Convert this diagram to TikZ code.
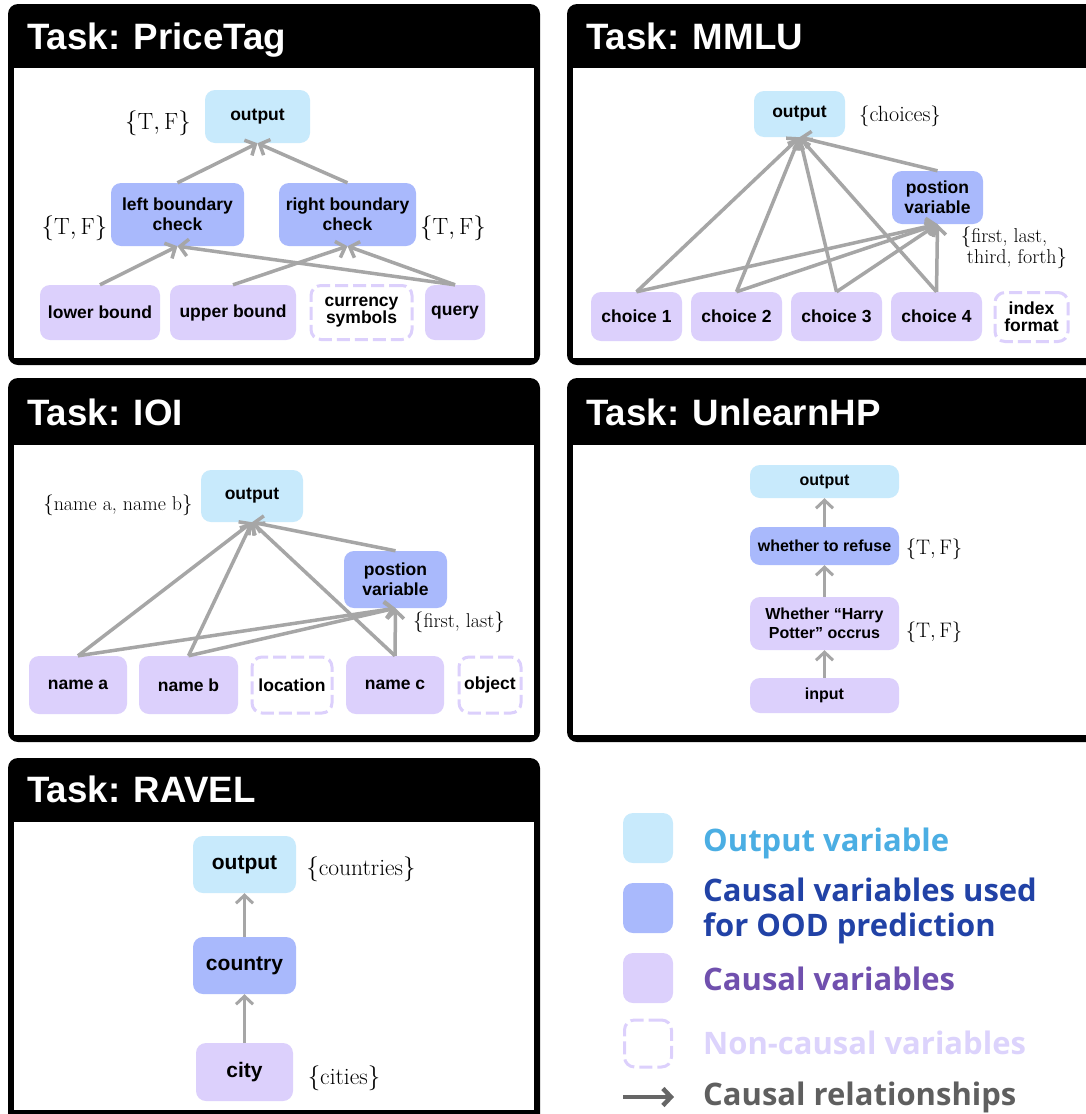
\documentclass[tikz,border=0pt]{standalone}
\usepackage{fontspec}
\usetikzlibrary{arrows.meta}
\newfontfamily\boxfont{Liberation Sans}
\newfontfamily\legendfont{Open Sans}
\definecolor{outblue}{HTML}{C8EAFC}
\definecolor{oodblue}{HTML}{A9B9FC}
\definecolor{cpurple}{HTML}{DCD0FC}
\definecolor{linkgray}{HTML}{A6A6A6}
\definecolor{legout}{HTML}{4BAEE3}
\definecolor{legood}{HTML}{2142A6}
\definecolor{legc}{HTML}{7050AE}
\definecolor{legnc}{HTML}{DCD3FC}
\definecolor{legarrow}{HTML}{666666}
\definecolor{legrel}{HTML}{5F5F5F}

\begin{document}
\begin{tikzpicture}[x=1pt,y=-1pt,
  var/.style={rounded corners=10pt, inner sep=0pt, align=center, font=\boxfont\bfseries\fontsize{17.5}{20}\selectfont},
  outvar/.style={var, fill=outblue},
  oodvar/.style={var, fill=oodblue},
  cvar/.style={var, fill=cpurple},
  ncvar/.style={var, draw=cpurple, line width=3pt, dash pattern=on 13pt off 5pt, font=\boxfont\bfseries\fontsize{17.5}{17}\selectfont},
  bigtext/.style={font=\boxfont\bfseries\fontsize{21}{24}\selectfont},
  smalltext/.style={font=\boxfont\bfseries\fontsize{16}{19}\selectfont},
  vals/.style={inner sep=0pt, align=left, font=\fontsize{#1}{21}\selectfont},
  vals/.default=22,
  link/.style={draw=linkgray, line width=3.5pt, -{Straight Barb[length=8pt,width=17pt]}},
  tasktitle/.style={anchor=base west, inner sep=0pt, text=white, font=\boxfont\bfseries\fontsize{36.7}{40}\selectfont},
  legtext/.style={inner sep=0pt, align=left, font=\legendfont\bfseries\fontsize{31}{35}\selectfont}]
\useasboundingbox (0,0) rectangle (1086,1114);
\clip (0,0) rectangle (1086,1114);

% frames
\fill[rounded corners=10pt] (8,4) rectangle (540,365);
\fill[white] (14,68) rectangle (534,358);
\fill[rounded corners=10pt] (567,4) rectangle (1100,365);
\fill[white] (573,68) rectangle (1100,358);
\fill[rounded corners=10pt] (8,378) rectangle (540,742);
\fill[white] (14,445) rectangle (534,735);
\fill[rounded corners=10pt] (567,378) rectangle (1100,742);
\fill[white] (573,445) rectangle (1100,735);
\fill[rounded corners=10pt] (8,758) rectangle (540,1125);
\fill[white] (14,822) rectangle (534,1110);

\node[tasktitle] (pt-title) at (27,49) {Task: PriceTag};
\node[tasktitle] (mm-title) at (586,49) {Task: MMLU};
\node[tasktitle] (ioi-title) at (27,425) {Task: IOI};
\node[tasktitle] (hp-title) at (586,425) {Task: UnlearnHP};
\node[tasktitle] (rv-title) at (27,802) {Task: RAVEL};

% PriceTag
\node[outvar, minimum width=105pt, minimum height=53pt] (pt-out) at (257.5,116.5) {output};
\node[oodvar, minimum width=133pt, minimum height=63pt] (pt-left) at (177.5,214.5) {left boundary\\check};
\node[oodvar, minimum width=137pt, minimum height=63pt] (pt-right) at (347.5,214.5) {right boundary\\check};
\node[cvar, minimum width=120pt, minimum height=55pt] (pt-low) at (100,312.5) {lower bound};
\node[cvar, minimum width=126pt, minimum height=55pt] (pt-up) at (233,312.5) {upper bound};
\node[ncvar, minimum width=101pt, minimum height=54pt] (pt-cur) at (361.5,312.5) {currency\\symbols};
\node[cvar, minimum width=60pt, minimum height=55pt] (pt-query) at (455,312.5) {query};
\node[vals=23.5] (pt-v1) at (158,123) {$\{\mathrm{T}, \mathrm{F}\}$};
\node[vals=23.5] (pt-v2) at (74.5,228) {$\{\mathrm{T}, \mathrm{F}\}$};
\node[vals=23.5] (pt-v3) at (453,228) {$\{\mathrm{T}, \mathrm{F}\}$};
\draw[link] (pt-left.north) -- (pt-out.south);
\draw[link] (pt-right.north) -- (pt-out.south);
\draw[link] (pt-low.north) -- (pt-left.south);
\draw[link] (pt-up.north) -- (pt-right.south);
\draw[link] (pt-query.north) -- (pt-left.south);
\draw[link] (pt-query.north) -- (pt-right.south);

% MMLU
\node[outvar, minimum width=91pt, minimum height=46pt] (mm-out) at (799.5,114) {output};
\node[oodvar, minimum width=91pt, minimum height=53pt] (mm-pos) at (937.5,197.5) {postion\\variable};
\node[cvar, minimum width=91pt, minimum height=49pt] (mm-c1) at (636.5,316.5) {choice 1};
\node[cvar, minimum width=91pt, minimum height=49pt] (mm-c2) at (736.5,316.5) {choice 2};
\node[cvar, minimum width=91pt, minimum height=49pt] (mm-c3) at (836.5,316.5) {choice 3};
\node[cvar, minimum width=91pt, minimum height=49pt] (mm-c4) at (936.5,316.5) {choice 4};
\node[ncvar, minimum width=73pt, minimum height=49pt] (mm-idx) at (1031.5,317) {index\\format};
\node[vals] (mm-v1) at (900,116) {$\{$choices$\}$};
\node[vals=20] (mm-v2) at (1014,248) {$\{$first, last,\\\ third, forth$\}$};
\draw[link] (mm-c1.north) -- (mm-out.south);
\draw[link] (mm-c2.north) -- (mm-out.south);
\draw[link] (mm-c3.north) -- (mm-out.south);
\draw[link] (mm-c4.north) -- (mm-out.south);
\draw[link] (mm-pos.north) -- (mm-out.south);
\draw[link] (mm-c1.north) -- (mm-pos.south);
\draw[link] (mm-c2.north) -- (mm-pos.south);
\draw[link] (mm-c3.north) -- (mm-pos.south);
\draw[link] (mm-c4.north) -- (mm-pos.south);

% IOI
\node[outvar, minimum width=102pt, minimum height=52pt] (ioi-out) at (252,496) {output};
\node[oodvar, minimum width=103pt, minimum height=57pt] (ioi-pos) at (395.5,579.5) {postion\\variable};
\node[cvar, minimum width=98pt, minimum height=58pt] (ioi-a) at (78,685) {name a};
\node[cvar, minimum width=99pt, minimum height=58pt] (ioi-b) at (188.5,685) {name b};
\node[ncvar, minimum width=80pt, minimum height=56pt] (ioi-loc) at (292,685) {location};
\node[cvar, minimum width=98pt, minimum height=58pt] (ioi-c) at (395,685) {name c};
\node[ncvar, minimum width=62pt, minimum height=56pt] (ioi-obj) at (490,685) {object};
\node[vals=20] (ioi-v1) at (118,505) {$\{$name a, name b$\}$};
\node[vals=20] (ioi-v2) at (459,622) {$\{$first, last$\}$};
\draw[link] (ioi-a.north) -- (ioi-out.south);
\draw[link] (ioi-b.north) -- (ioi-out.south);
\draw[link] (ioi-c.north) -- (ioi-out.south);
\draw[link] (ioi-pos.north) -- (ioi-out.south);
\draw[link] (ioi-a.north) -- (ioi-pos.south);
\draw[link] (ioi-b.north) -- (ioi-pos.south);
\draw[link] (ioi-c.north) -- (ioi-pos.south);

% UnlearnHP
\node[outvar, smalltext, minimum width=149pt, minimum height=33pt] (hp-out) at (824.5,481.5) {output};
\node[oodvar, smalltext, minimum width=149pt, minimum height=38pt] (hp-ref) at (824.5,546) {whether to refuse};
\node[cvar, smalltext, minimum width=149pt, minimum height=53pt] (hp-occ) at (824.5,623.5) {Whether “Harry\\Potter” occrus};
\node[cvar, smalltext, minimum width=149pt, minimum height=35pt] (hp-in) at (824.5,695.5) {input};
\node[vals=21] (hp-v1) at (934,549) {$\{\mathrm{T}, \mathrm{F}\}$};
\node[vals=21] (hp-v2) at (934,632) {$\{\mathrm{T}, \mathrm{F}\}$};
\draw[link, line width=3pt] (hp-ref) -- (hp-out);
\draw[link, line width=3pt] (hp-occ) -- (hp-ref);
\draw[link, line width=3pt] (hp-in) -- (hp-occ);

% RAVEL
\node[outvar, bigtext, minimum width=103pt, minimum height=57pt] (rv-out) at (244.5,864.5) {output};
\node[oodvar, bigtext, minimum width=103pt, minimum height=57pt] (rv-country) at (244.5,965.5) {country};
\node[cvar, bigtext, minimum width=97pt, minimum height=58pt] (rv-city) at (244.5,1072) {city};
\node[vals=23.5] (rv-v1) at (361,869) {$\{$countries$\}$};
\node[vals=23.5] (rv-v2) at (344,1078) {$\{$cities$\}$};
\draw[link, line width=3pt] (rv-country) -- (rv-out);
\draw[link, line width=3pt] (rv-city) -- (rv-country);

% legend
\node[outvar, minimum size=50pt] (lg-out) at (648,838) {};
\node[oodvar, minimum size=50pt] (lg-ood) at (648,908) {};
\node[cvar, minimum size=50pt] (lg-c) at (648,978) {};
\node[ncvar, minimum size=47pt] (lg-nc) at (648,1043.5) {};
\coordinate (lg-a1) at (623,1097);
\coordinate (lg-a2) at (674,1097);
\draw[link, draw=legarrow, line width=4.5pt] (lg-a1) -- (lg-a2);
\node[legtext, anchor=base west, text=legout] (lg-t1) at (703,851) {Output variable};
\node[legtext, anchor=west, text=legood] (lg-t2) at (703,911) {Causal variables used\\for OOD prediction};
\node[legtext, anchor=base west, text=legc] (lg-t3) at (703,990) {Causal variables};
\node[legtext, anchor=base west, text=legnc] (lg-t4) at (703,1054) {Non-causal variables};
\node[legtext, anchor=base west, text=legrel] (lg-t5) at (703,1105) {Causal relationships};
\end{tikzpicture}
\end{document}
